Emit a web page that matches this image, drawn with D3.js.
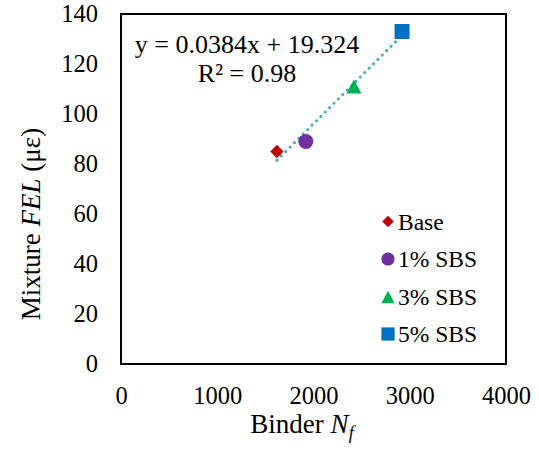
<!DOCTYPE html>
<html><head><meta charset="utf-8">
<script src="https://cdn.jsdelivr.net/npm/d3@7"></script>
<style>body{margin:0;background:#fff}svg{display:block}
svg text{font-family:"Liberation Serif","Times New Roman","DejaVu Serif",serif;}</style>
</head><body>
<script>
const categories = ["Base", "1% SBS", "3% SBS", "5% SBS"];
const binderNf = [1620, 1920, 2420, 2920];
const mixtureFEL = [85, 89, 111, 133];
const colors = ["#C00000", "#7030A0", "#00B050", "#0070C0"];
const xTicks = [0, 1000, 2000, 3000, 4000];
const yTicks = [0, 20, 40, 60, 80, 100, 120, 140];
const slope = 0.0384, intercept = 19.324;
const eqText = "y = 0.0384x + 19.324";
const r2Text = "R² = 0.98";

const W = 539, H = 455;
const L = 121, R = 506, T = 14, B = 364;
const font = "Liberation Serif, Times New Roman, DejaVu Serif, serif";

const svg = d3.select("body").append("svg").attr("width", W).attr("height", H);
const x = d3.scaleLinear().domain([0, 4000]).range([L, R]);
const y = d3.scaleLinear().domain([0, 140]).range([B, T]);

// axes tick labels
const xa = svg.append("g").attr("transform", `translate(0,${B})`)
  .call(d3.axisBottom(x).tickValues(xTicks).tickSize(0).tickPadding(23).tickFormat(d3.format("d")));
xa.attr("font-family", null);
xa.select(".domain").remove();
xa.selectAll("text").style("font-family", font).style("font-size", "24.5px").attr("fill", "#000");
const ya = svg.append("g").attr("transform", `translate(${L},0)`)
  .call(d3.axisLeft(y).tickValues(yTicks).tickSize(0).tickPadding(23).tickFormat(d3.format("d")));
ya.attr("font-family", null);
ya.select(".domain").remove();
ya.selectAll("text").style("font-family", font).style("font-size", "24.5px").attr("fill", "#000");

// plot box
svg.append("rect").attr("x", L).attr("y", T).attr("width", R - L).attr("height", B - T)
  .attr("fill", "none").attr("stroke", "#000").attr("stroke-width", 2);

// trendline
const xmin = d3.min(binderNf), xmax = d3.max(binderNf);
svg.append("line")
  .attr("x1", x(xmin)).attr("y1", y(slope * xmin + intercept))
  .attr("x2", x(xmax)).attr("y2", y(slope * xmax + intercept))
  .attr("stroke", "#4BACC6").attr("stroke-width", 3.2)
  .attr("stroke-dasharray", "0 6.2").attr("stroke-linecap", "round");

// markers
function marker(sel, i, s) {
  const c = colors[i];
  if (i === 0) {
    sel.append("path").attr("d", d3.symbol(d3.symbolSquare, 88 * s * s)()).attr("transform", "rotate(45)").attr("fill", c);
  } else if (i === 1) {
    sel.append("circle").attr("r", 7.5 * s).attr("fill", c);
  } else if (i === 2) {
    const w = 15 * s, h = 14 * s;
    sel.append("path").attr("d", `M0,${-h/2}L${w/2},${h/2}L${-w/2},${h/2}Z`).attr("fill", c);
  } else {
    const a = 15 * s;
    sel.append("rect").attr("x", -a/2).attr("y", -a/2).attr("width", a).attr("height", a).attr("fill", c);
  }
}
categories.forEach((c, i) => {
  const g = svg.append("g").attr("transform", `translate(${x(binderNf[i])},${y(mixtureFEL[i])})`);
  marker(g, i, 1);
});

// equation
svg.append("text").attr("x", 247).attr("y", 53).attr("text-anchor", "middle")
  .style("font-size", "26px").text(eqText);
svg.append("text").attr("x", 247).attr("y", 82).attr("text-anchor", "middle")
  .style("font-size", "26px").text(r2Text);

// legend
const legY = [221.5, 259, 297, 334];
categories.forEach((c, i) => {
  const g = svg.append("g").attr("transform", `translate(388,${legY[i]})`);
  marker(g, i, 0.88);
  svg.append("text").attr("x", 398).attr("y", legY[i]).attr("dy", "0.35em")
    .style("font-size", "23.5px").text(c);
});

// axis titles
const xt = svg.append("text").attr("x", 302).attr("y", 433).attr("text-anchor", "middle")
  .style("font-size", "27px");
xt.append("tspan").text("Binder ");
xt.append("tspan").style("font-style", "italic").text("N");
xt.append("tspan").style("font-style", "italic").style("font-size", "18px").attr("dy", 6).text("f");

const yt = svg.append("text").attr("transform", "translate(40,224) rotate(-90)").attr("text-anchor", "middle")
  .style("font-size", "27px");
yt.append("tspan").text("Mixture ");
yt.append("tspan").style("font-style", "italic").text("FEL");
yt.append("tspan").text(" (με)");
</script>
</body></html>
